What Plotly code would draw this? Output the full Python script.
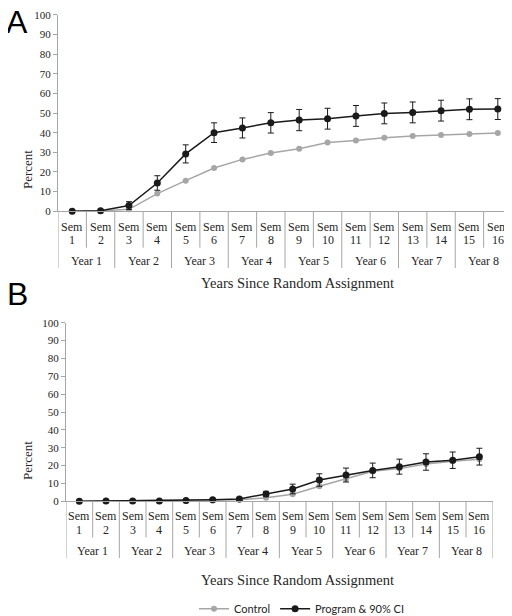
import plotly.graph_objects as go

# ---------------- data ----------------
sem_numbers = [str(i) for i in range(1, 17)]
year_labels = [f"Year {i}" for i in range(1, 9)]
y_ticks = list(range(0, 101, 10))

a_control = [0, 0.1, 1.0, 9.0, 15.6, 22.0, 26.4, 29.6, 31.8, 35.0, 36.0, 37.4, 38.3, 38.8, 39.3, 39.8]
a_program = [0, 0.3, 2.9, 14.4, 29.2, 40.0, 42.4, 45.0, 46.4, 47.1, 48.5, 49.8, 50.3, 51.2, 51.9, 52.0]
a_ci = [0, 0, 2.0, 3.7, 4.6, 5.0, 5.1, 5.2, 5.4, 5.3, 5.3, 5.3, 5.3, 5.3, 5.3, 5.3]

b_control = [0, 0.1, 0.1, 0.1, 0.2, 0.5, 0.8, 2.0, 3.9, 8.4, 12.5, 16.8, 18.3, 20.9, 22.4, 23.5]
b_program = [0, 0.2, 0.2, 0.2, 0.4, 0.9, 1.3, 4.1, 6.9, 11.9, 14.7, 17.3, 19.4, 22.0, 23.0, 25.0]
b_ci = [0, 0, 0, 0, 0.3, 0.5, 0.7, 1.5, 2.7, 3.5, 3.9, 4.1, 4.2, 4.6, 4.6, 4.7]

# ---------------- styling ----------------
OFF = 8                     # page body margin in the browser
W, H = 512 - OFF, 616 - OFF
SERIF = "Liberation Serif"
SANS = "Liberation Sans"
GRID = "#a6a6a6"
CTRL = "#a6a6a6"
PROG = "#1a1a1a"
TXT = "#262626"

def px_(x):
    return (x - OFF) / W

def py(y):
    return 1 - (y - OFF) / H

panels = [
    dict(name="A", ctrl=a_control, prog=a_program, ci=a_ci, xa="x", ya="y",
         xdom=[px_(58), 1.0], xrange=[-0.5, 15.5], y0=211.3, y100=14.7,
         sem_y=227, num_y=240, sep_end=247.7, year_y=261, bottom=268,
         title_y=283, letter=(17, 22), pct=(27, 170), legend=False),
    dict(name="B", ctrl=b_control, prog=b_program, ci=b_ci, xa="x2", ya="y2",
         xdom=[px_(66), px_(492.7)], xrange=[-0.5, 15.5], y0=501.3, y100=322.7,
         sem_y=516, num_y=530, sep_end=537.5, year_y=551, bottom=558,
         title_y=580, letter=(17, 294), pct=(27, 461), legend=True),
]

fig = go.Figure()
annotations = []
shapes = []
xs = list(range(16))

for p in panels:
    fig.add_trace(go.Scatter(
        x=xs, y=p["ctrl"], xaxis=p["xa"], yaxis=p["ya"], name="Control",
        mode="lines+markers", line=dict(color=CTRL, width=1.5),
        marker=dict(color=CTRL, size=6), legendgroup="c", showlegend=p["legend"],
        cliponaxis=False))
    fig.add_trace(go.Scatter(
        x=xs, y=p["prog"], xaxis=p["xa"], yaxis=p["ya"], name="Program & 90% CI",
        mode="lines+markers", line=dict(color=PROG, width=1.5),
        marker=dict(color=PROG, size=7), legendgroup="p", showlegend=p["legend"],
        error_y=dict(type="data", array=p["ci"], color=PROG, thickness=1, width=3),
        cliponaxis=False))

    xref = p["xa"]
    # category labels
    for i, s in enumerate(sem_numbers):
        annotations.append(dict(x=i, y=py(p["sem_y"]), xref=xref, yref="paper",
                                text="Sem", showarrow=False, xanchor="center", yanchor="middle",
                                font=dict(family=SERIF, size=12, color=TXT)))
        annotations.append(dict(x=i, y=py(p["num_y"]), xref=xref, yref="paper",
                                text=s, showarrow=False, xanchor="center", yanchor="middle",
                                font=dict(family=SERIF, size=12, color=TXT)))
    for j, yl in enumerate(year_labels):
        annotations.append(dict(x=2 * j + 0.5, y=py(p["year_y"]), xref=xref, yref="paper",
                                text=yl, showarrow=False, xanchor="center", yanchor="middle",
                                font=dict(family=SERIF, size=12, color=TXT)))
    # separators
    for k in range(17):
        xpos = k - 0.5
        end = p["bottom"] if k % 2 == 0 else p["sep_end"]
        shapes.append(dict(type="line", xref=xref, yref="paper",
                           x0=xpos, x1=xpos, y0=py(p["y0"]), y1=py(end),
                           line=dict(color=GRID, width=1)))
    # axis title, y title, panel letter
    annotations.append(dict(x=px_(297), y=py(p["title_y"]), xref="paper", yref="paper",
                            text="Years Since Random Assignment", showarrow=False,
                            xanchor="center", yanchor="middle",
                            font=dict(family=SERIF, size=14.5, color=TXT)))
    annotations.append(dict(x=px_(p["pct"][0]), y=py(p["pct"][1]), xref="paper", yref="paper",
                            text="Percent", showarrow=False, textangle=-90,
                            xanchor="center", yanchor="middle",
                            font=dict(family=SERIF, size=13, color=TXT)))
    annotations.append(dict(x=px_(p["letter"][0]), y=py(p["letter"][1]), xref="paper", yref="paper",
                            text=p["name"], showarrow=False, xanchor="center", yanchor="middle",
                            borderpad=0,
                            font=dict(family=SANS, size=32, color="#000000")))

axis_common_x = dict(showgrid=False, zeroline=False, showticklabels=False, ticks="",
                     showline=True, linecolor=GRID, linewidth=1, automargin=False)
axis_common_y = dict(range=[0, 100], tickvals=y_ticks, showgrid=False, zeroline=False,
                     showline=True, linecolor=GRID, linewidth=1, ticks="outside",
                     ticklen=4, tickcolor=GRID, automargin=False,
                     tickfont=dict(family=SERIF, size=11, color=TXT))

a, b = panels
fig.update_layout(
    width=W, height=H,
    margin=dict(l=0, r=0, t=0, b=0, pad=0, autoexpand=False),
    paper_bgcolor="white", plot_bgcolor="white",
    xaxis=dict(domain=a["xdom"], range=a["xrange"], anchor="y", **axis_common_x),
    yaxis=dict(domain=[py(a["y0"]), py(a["y100"])], anchor="x", **axis_common_y),
    xaxis2=dict(domain=b["xdom"], range=b["xrange"], anchor="y2", **axis_common_x),
    yaxis2=dict(domain=[py(b["y0"]), py(b["y100"])], anchor="x2", **axis_common_y),
    annotations=annotations,
    shapes=shapes,
    showlegend=True,
    legend=dict(orientation="h", x=px_(302), xanchor="center", y=-0.012, yanchor="bottom",
                font=dict(family="Lato", size=11, color=TXT), itemwidth=30,
                bgcolor="rgba(0,0,0,0)", tracegroupgap=0),
)

fig.write_html("out.html")
